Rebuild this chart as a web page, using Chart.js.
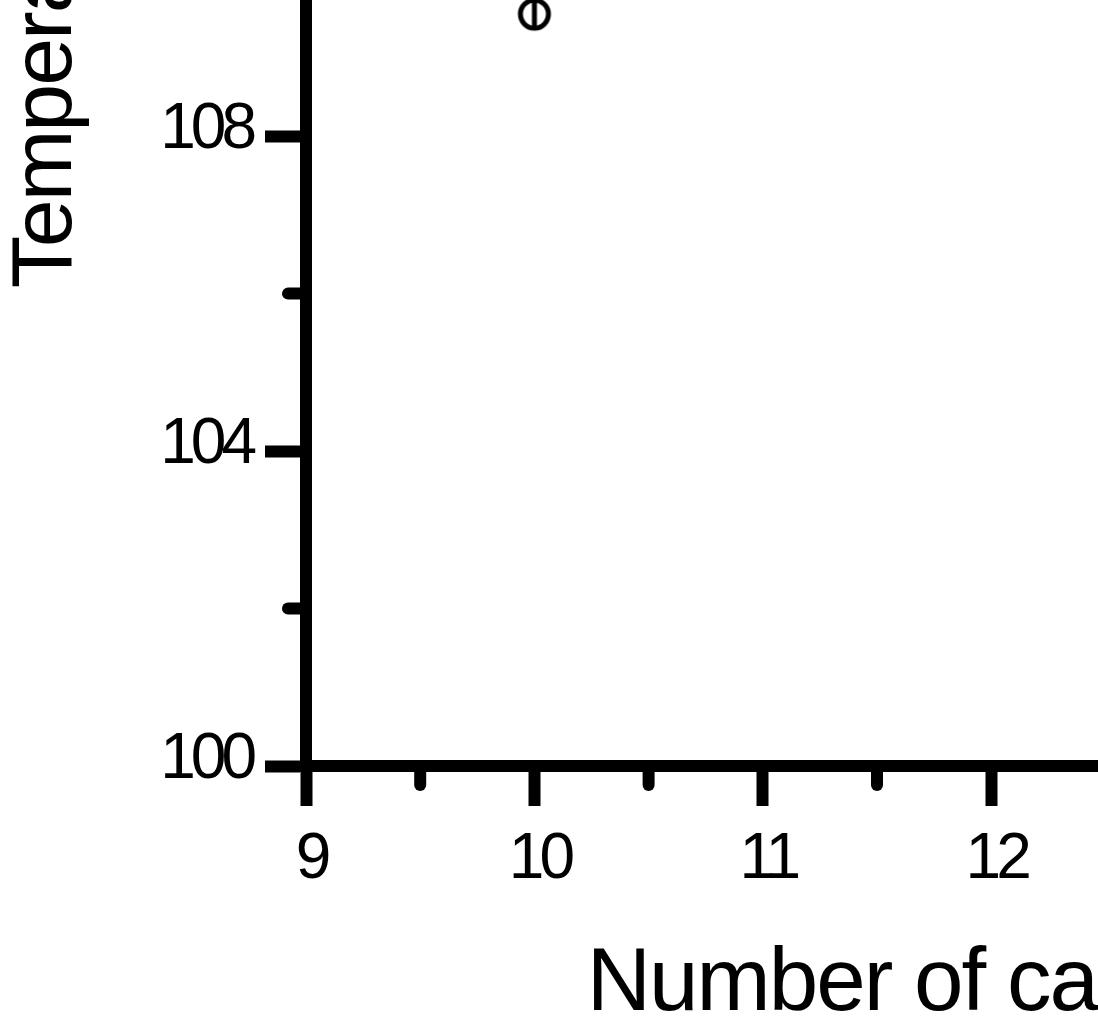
<!DOCTYPE html>
<html>
<head>
<meta charset="utf-8">
<script src="https://cdn.jsdelivr.net/npm/chart.js@4.4.1/dist/chart.umd.min.js"></script>
<style>
  html, body { margin: 0; padding: 0; background: #fff; overflow: hidden; }
  #wrap { position: absolute; left: 0; top: -860px; }
</style>
</head>
<body>
<div id="wrap"><canvas id="c" width="1506" height="1886"></canvas></div>
<script>
// data
const carCounts = [10];
const temperatures = [109.55];
const xRange = [9, 14];
const yRange = [100, 120];
const xMajorStep = 1;
const yMajorStep = 4;

const FONT = '"Liberation Sans", Arial, Helvetica, sans-serif';

// marker: open circle with a short vertical bar through it
function makeMarker() {
  const m = document.createElement('canvas');
  m.width = 36; m.height = 36;
  const g = m.getContext('2d');
  g.fillStyle = '#fff';
  g.strokeStyle = '#000';
  g.lineWidth = 5;
  g.beginPath(); g.arc(18, 18, 14, 0, Math.PI * 2); g.fill(); g.stroke();
  g.lineWidth = 5;
  g.beginPath(); g.moveTo(18, 5); g.lineTo(18, 31); g.stroke();
  return m;
}

// minor ticks halfway between labelled ones
const minorTicks = {
  id: 'minorTicks',
  afterDraw(chart) {
    const ctx = chart.ctx;
    const xs = chart.scales.x, ys = chart.scales.y;
    ctx.save();
    ctx.strokeStyle = '#000';
    ctx.lineWidth = 12;
    ctx.lineCap = 'round';
    const ax = ys.right, ay = xs.top;
    for (let v = xRange[0] + xMajorStep / 2; v < xRange[1]; v += xMajorStep) {
      const px = xs.getPixelForValue(v);
      ctx.beginPath(); ctx.moveTo(px, ay); ctx.lineTo(px, ay + 19); ctx.stroke();
    }
    for (let v = yRange[0] + yMajorStep / 2; v < yRange[1]; v += yMajorStep) {
      const py = ys.getPixelForValue(v);
      ctx.beginPath(); ctx.moveTo(ax, py); ctx.lineTo(ax - 18, py); ctx.stroke();
    }
    ctx.restore();
  }
};

// tight tracking like the original type: titles a bit, tick numbers more
const tracking = {
  id: 'tracking',
  beforeDraw(chart) { chart.ctx.letterSpacing = '-2px'; },
  afterDatasetsDraw(chart) { chart.ctx.letterSpacing = '-5px'; }
};

new Chart(document.getElementById('c'), {
  type: 'scatter',
  data: {
    datasets: [{
      label: 'Temperature',
      data: carCounts.map((x, i) => ({ x, y: temperatures[i] })),
      pointStyle: makeMarker(),
      pointRadius: 18
    }]
  },
  options: {
    responsive: false,
    devicePixelRatio: 1,
    animation: false,
    layout: { padding: { left: 0, top: 40, right: 58, bottom: 0 } },
    plugins: { legend: { display: false }, tooltip: { enabled: false } },
    scales: {
      x: {
        type: 'linear',
        min: xRange[0], max: xRange[1],
        afterFit(s) { s.height = 260; },
        border: { display: true, color: '#000', width: 12 },
        grid: { drawOnChartArea: false, drawTicks: true, tickLength: 40, tickWidth: 12, tickColor: '#000' },
        ticks: { z: 1, stepSize: xMajorStep, color: '#000', padding: 16, labelOffset: 5, font: { family: FONT, size: 64 } },
        title: { display: true, text: 'Number of cars', color: '#000', padding: { top: 0, bottom: -4 }, font: { family: FONT, size: 89, lineHeight: 1 } }
      },
      y: {
        type: 'linear',
        min: yRange[0], max: yRange[1],
        afterFit(s) { s.width = 306; },
        border: { display: true, color: '#000', width: 12 },
        grid: { drawOnChartArea: false, drawTicks: true, tickLength: 41, tickWidth: 12, tickColor: '#000' },
        ticks: { z: 1, stepSize: yMajorStep, color: '#000', padding: 13, labelOffset: -6, font: { family: FONT, size: 64 } },
        title: { display: true, text: 'Temperature (°F)', color: '#000', padding: { top: 4, bottom: 0 }, font: { family: FONT, size: 86, lineHeight: 1 } }
      }
    }
  },
  plugins: [tracking, minorTicks]
});
</script>
</body>
</html>
